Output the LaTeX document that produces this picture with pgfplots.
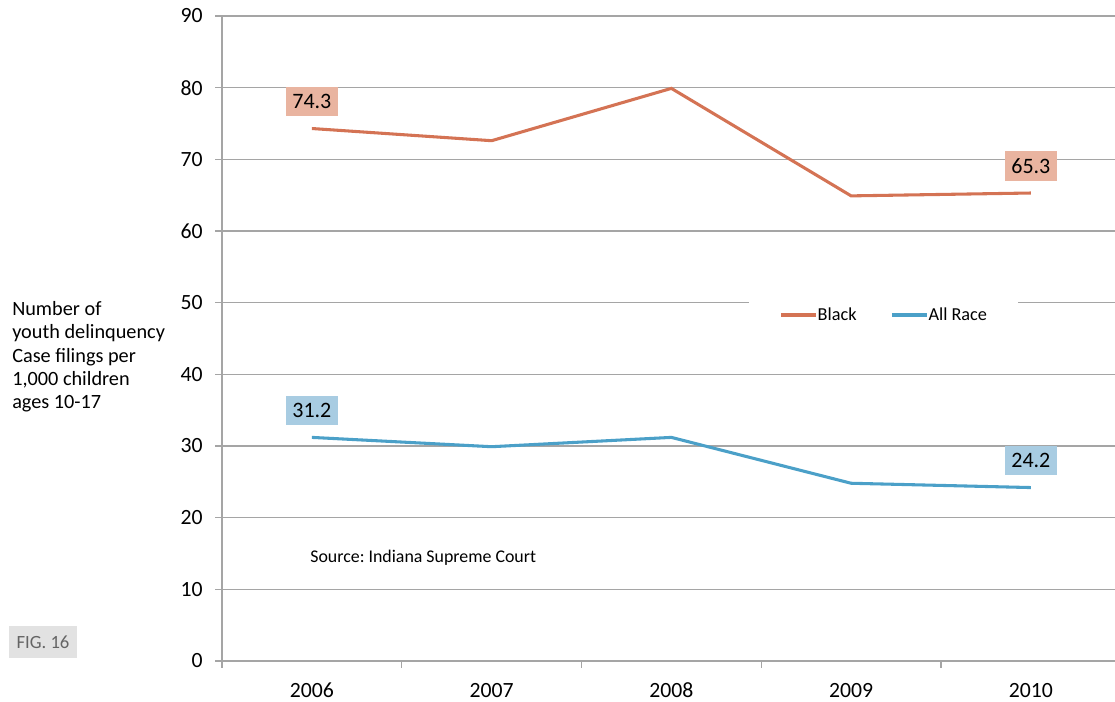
\documentclass[border=0pt]{standalone}
\usepackage{pgfplots}
\pgfplotsset{compat=1.18}
\usepackage{fontspec}
\setmainfont{Carlito}
\frenchspacing
\definecolor{blackline}{RGB}{212,115,84}
\definecolor{allline}{RGB}{75,160,200}
\definecolor{blackfill}{RGB}{233,180,160}
\definecolor{allfill}{RGB}{168,204,226}
\definecolor{gridc}{RGB}{165,165,165}
\definecolor{figfill}{RGB}{226,226,226}
\definecolor{figtext}{RGB}{100,100,100}
\begin{document}
\begin{tikzpicture}
\useasboundingbox (0,0) rectangle (836.25pt,526.5pt);
\begin{axis}[
  at={(166.5pt,30.75pt)}, anchor=south west,
  scale only axis, width=669.75pt, height=483.75pt,
  xmin=-0.5, xmax=4.468, ymin=0, ymax=90,
  axis x line=bottom, axis y line=left,
  axis line style={-, gridc, line width=1.1pt},
  xtick={0,1,2,3,4},
  xticklabels={2006,2007,2008,2009,2010},
  minor xtick={-0.5,0.5,1.5,2.5,3.5},
  major x tick style={draw=none},
  minor x tick style={gridc, line width=1pt},
  minor tick length=5pt,
  ytick={0,10,...,90},
  y tick style={gridc, line width=1pt},
  major tick length=5pt,
  tick align=outside,
  ymajorgrids,
  grid style={gridc, line width=1.1pt},
  /pgf/number format/assume math mode=true,
  ticklabel style={font=\fontsize{16.3}{18}\selectfont},
  yticklabel style={xshift=-6pt},
  xticklabel style={yshift=-8pt},
  legend style={at={(0.7408,0.5364)}, anchor=center, draw=none, fill=white,
    font=\fontsize{13.7}{16}\selectfont, legend columns=2,
    inner xsep=23pt, inner ysep=8pt,
    nodes={inner sep=0.3pt},
    /tikz/every even column/.append style={column sep=25pt}},
  legend image code/.code={\draw[#1] (0pt,0pt) -- (26pt,0pt);},
]
\addplot[blackline, line width=2.3pt] coordinates {(0,74.3) (1,72.6) (2,79.9) (3,64.9) (4,65.3)};
\addlegendentry{Black}
\addplot[allline, line width=2.3pt] coordinates {(0,31.2) (1,29.9) (2,31.2) (3,24.8) (4,24.2)};
\addlegendentry{All Race}
\addplot[draw=none, forget plot, nodes near coords, point meta=explicit symbolic,
  nodes near coords style={anchor=center, yshift=20pt, fill=blackfill, inner xsep=5pt, inner ysep=5.5pt,
  font=\fontsize{16.5}{18}\selectfont, text=black}]
  coordinates {(0,74.3) [74.3] (4,65.3) [65.3]};
\addplot[draw=none, forget plot, nodes near coords, point meta=explicit symbolic,
  nodes near coords style={anchor=center, yshift=20pt, fill=allfill, inner xsep=5pt, inner ysep=5.5pt,
  font=\fontsize{16.5}{18}\selectfont, text=black}]
  coordinates {(0,31.2) [31.2] (4,24.2) [24.2]};
\node[anchor=west, font=\fontsize{13.4}{16}\selectfont, inner sep=0pt] at (axis cs:-0.01,14.37) {Source: Indiana Supreme Court};
\end{axis}
\node[anchor=west, align=left, inner sep=0pt, font=\fontsize{15.2}{17.5}\selectfont] at (9pt,258.75pt)
  {Number of\\youth delinquency\\Case filings per\\1,000 children\\ages 10-17};
\node[fill=figfill, text=figtext, minimum width=51pt, minimum height=24pt, inner sep=0pt,
  font=\fontsize{14}{16}\selectfont] at (32.25pt,45pt) {FIG. 16};
\end{tikzpicture}
\end{document}
